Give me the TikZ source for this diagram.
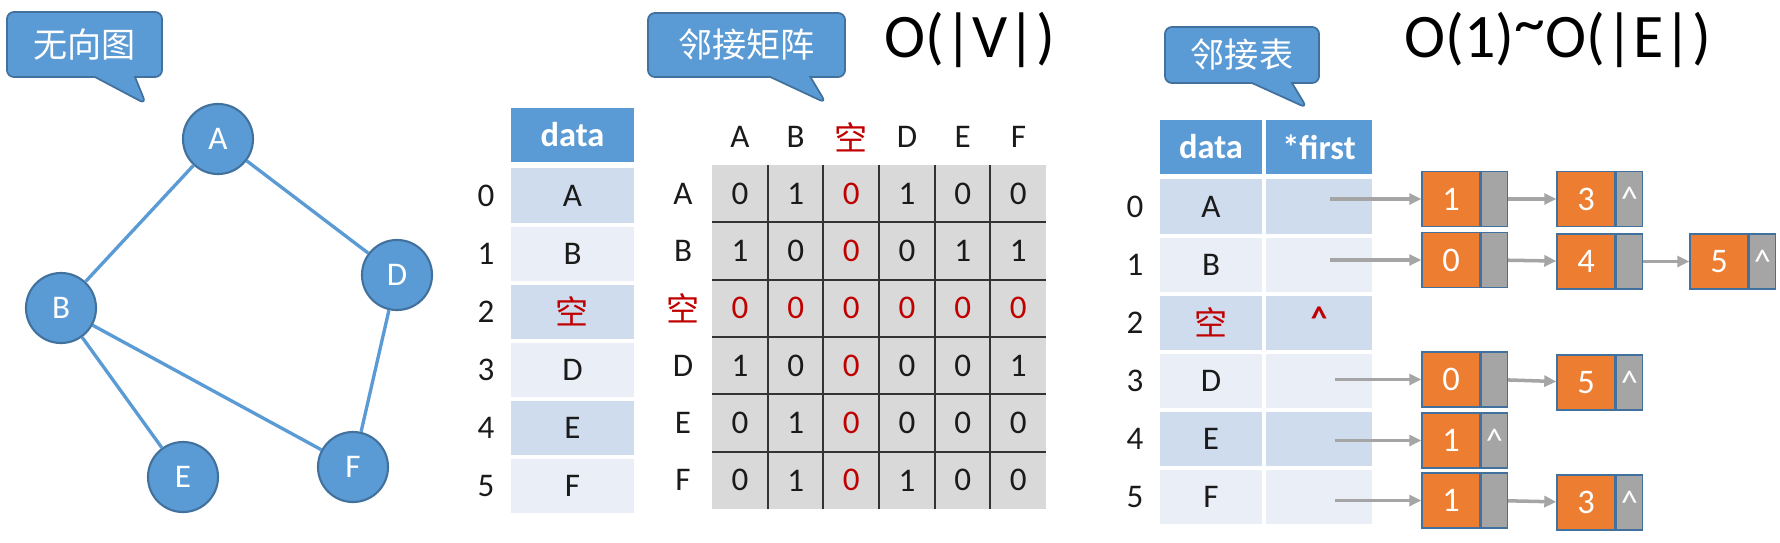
\documentclass[tikz,border=0pt]{standalone}
\usepackage{fontspec}
\setmainfont{Carlito}
\newfontfamily\cjk{Noto Sans CJK SC}
\usetikzlibrary{arrows.meta,positioning,shapes.callouts}
\definecolor{nodeblue}{HTML}{5B9BD5}
\definecolor{edgeblue}{HTML}{41719C}
\definecolor{rowdark}{HTML}{CFDCEE}
\definecolor{rowlight}{HTML}{E9EEF7}
\definecolor{gridgrey}{HTML}{D9D9D9}
\definecolor{gridline}{HTML}{333333}
\definecolor{emptyred}{HTML}{C00000}
\definecolor{listorange}{HTML}{ED7D31}
\definecolor{ptrgrey}{HTML}{A5A5A5}
\definecolor{textblack}{HTML}{1A1A1A}
\newcommand\kong{{\cjk\color{emptyred}空}}
\newcommand\rz{{\color{emptyred}0}}

\begin{document}
\begin{tikzpicture}[x=0.01cm, y=-0.01cm,
  txt/.style={font=\fontsize{9.4}{11}\selectfont, text=textblack, inner sep=0pt},
  vtx/.style={circle, draw=edgeblue, line width=0.6pt, fill=nodeblue, minimum size=7mm, inner sep=0pt, text=white, font=\fontsize{9.4}{11}\selectfont},
  gedge/.style={nodeblue, line width=0.95pt},
  bubble/.style={rectangle callout, rounded corners=0.7mm, fill=nodeblue, draw=edgeblue, line width=0.5pt, text=white, font=\cjk\fontsize{9.7}{11}\selectfont, callout pointer width=4mm, inner sep=0pt},
  hcell/.style={fill=nodeblue, text=white, minimum height=5.4mm, inner sep=0pt, font=\bfseries\fontsize{9.8}{11}\selectfont},
  dcell/.style={txt, minimum height=5.4mm},
  cplx/.style={font=\fontsize{17.6}{20}\selectfont, inner sep=0pt},
  val/.style={rectangle, fill=listorange, draw=edgeblue, line width=0.4pt, minimum width=5.8mm, minimum height=5.5mm, inner sep=0pt, text=white, font=\fontsize{9.8}{11}\selectfont},
  ptr/.style={rectangle, fill=ptrgrey, draw=edgeblue, line width=0.4pt, minimum width=2.6mm, minimum height=5.5mm, inner sep=0pt, text=white, font=\fontsize{9.8}{11}\selectfont},
  link/.style={ptrgrey, line width=1pt, -{Triangle[length=1.2mm, width=1.1mm]}}
]
\useasboundingbox (0,0) rectangle (1780,542);

% Undirected graph
\node[bubble, minimum width=15.5mm, minimum height=6.5mm, callout absolute pointer={(146,104)}] (cg) at (84.5,44.5) {无向图};
\node[vtx] (A) at (218,139) {A};
\node[vtx] (B) at (61,308) {B};
\node[vtx] (D) at (397,275) {D};
\node[vtx] (E) at (183,477) {E};
\node[vtx] (F) at (353,467) {F};
\draw[gedge] (A)--(B);
\draw[gedge] (A)--(D);
\draw[gedge] (B)--(E);
\draw[gedge] (B)--(F);
\draw[gedge] (D)--(F);

% Vertex table
\node[hcell, minimum width=12.3mm] (ldh) at (572.5,135) {data};
\foreach \idx/\lab/\fillc in {0/A/rowdark,1/B/rowlight,2/\kong/rowdark,3/D/rowlight,4/E/rowdark,5/F/rowlight} {
  \node[txt] (li\idx) at (486,195.5+58.1*\idx) {\idx};
  \node[dcell, fill=\fillc, minimum width=12.3mm] (ld\idx) at (572.5,195.5+58.1*\idx) {\lab};
}

% Adjacency matrix
\node[bubble, minimum width=19.7mm, minimum height=6.4mm, callout absolute pointer={(826,103)}] (cm) at (746.5,45) {邻接矩阵};
\node[cplx] (om) at (970,40) {O(|V|)};
\fill[gridgrey] (712,165) rectangle (1046,509);
\foreach \k in {1,...,5} {
  \draw[gridline, line width=0.6pt] (712+55.67*\k,165) -- (712+55.67*\k,509);
  \draw[gridline, line width=0.6pt] (712,165+57.33*\k) -- (1046,165+57.33*\k);
}
\foreach \lab [count=\mc from 0] in {A,B,\kong,D,E,F} {
  \node[txt] (ch\mc) at (740+55.67*\mc,137) {\lab};
  \node[txt] (rh\mc) at (683,193.7+57.33*\mc) {\lab};
}
\foreach \mr/\vals in {0/{0,1,\rz,1,0,0},1/{1,0,\rz,0,1,1},2/{\rz,\rz,\rz,\rz,\rz,\rz},3/{1,0,\rz,0,0,1},4/{0,1,\rz,0,0,0},5/{0,1,\rz,1,0,0}} {
  \foreach \mv [count=\mc from 0] in \vals {
    \node[txt] (m\mr\mc) at (740+55.67*\mc,193.7+57.33*\mr) {\mv};
  }
}

% Adjacency list
\node[bubble, minimum width=15.4mm, minimum height=5.6mm, callout absolute pointer={(1307,108)}] (cl) at (1242,55) {邻接表};
\node[cplx] (ol) at (1558,40) {O(1)\raisebox{0.22em}{\textasciitilde}O(|E|)};
\node[hcell, minimum width=10.2mm] (rdh) at (1211,147) {data};
\node[hcell, minimum width=10.6mm] (rfh) at (1319,147) {*first};
\foreach \idx/\lab/\fillc in {0/A/rowdark,1/B/rowlight,2/\kong/rowdark,3/D/rowlight,4/E/rowdark,5/F/rowlight} {
  \node[txt] (ri\idx) at (1135,206.5+58.1*\idx) {\idx};
  \node[dcell, fill=\fillc, minimum width=10.2mm] (rd\idx) at (1211,206.5+58.1*\idx) {\lab};
  \node[dcell, fill=\fillc, minimum width=10.6mm] (rf\idx) at (1319,206.5+58.1*\idx) {};
}
\node[txt, text=emptyred, font=\bfseries\fontsize{9.4}{11}\selectfont] (nil2) at (1319,318) {\textasciicircum};

% A: 1 -> 3
\node[val] (l0a) at (1451,199) {1};
\node[ptr, right=0pt of l0a] (p0a) {};
\node[val] (l0b) at (1586,199) {3};
\node[ptr, right=0pt of l0b] (p0b) {\textasciicircum};
% B: 0 -> 4 -> 5
\node[val] (l1a) at (1451,260) {0};
\node[ptr, right=0pt of l1a] (p1a) {};
\node[val] (l1b) at (1586,261.5) {4};
\node[ptr, right=0pt of l1b] (p1b) {};
\node[val] (l1c) at (1719,261.5) {5};
\node[ptr, right=0pt of l1c] (p1c) {\textasciicircum};
% D: 0 -> 5
\node[val] (l3a) at (1451,379.5) {0};
\node[ptr, right=0pt of l3a] (p3a) {};
\node[val] (l3b) at (1586,382.5) {5};
\node[ptr, right=0pt of l3b] (p3b) {\textasciicircum};
% E: 1
\node[val] (l4a) at (1451,440.5) {1};
\node[ptr, right=0pt of l4a] (p4a) {\textasciicircum};
% F: 1 -> 3
\node[val] (l5a) at (1451,500.5) {1};
\node[ptr, right=0pt of l5a] (p5a) {};
\node[val] (l5b) at (1586,502.5) {3};
\node[ptr, right=0pt of l5b] (p5b) {\textasciicircum};

\coordinate (s0) at (1330,199);
\coordinate (s1) at (1330,260);
\coordinate (s3) at (1335,379.5);
\coordinate (s4) at (1335,440.5);
\coordinate (s5) at (1335,500.5);
\draw[link] (s0)--(l0a);
\draw[link] (s1)--(l1a);
\draw[link] (s3)--(l3a);
\draw[link] (s4)--(l4a);
\draw[link] (s5)--(l5a);
\draw[link] (p0a)--(l0b);
\draw[link] (p1a)--(l1b);
\draw[link] (p1b)--(l1c);
\draw[link] (p3a)--(l3b);
\draw[link] (p5a)--(l5b);
\end{tikzpicture}
\end{document}
